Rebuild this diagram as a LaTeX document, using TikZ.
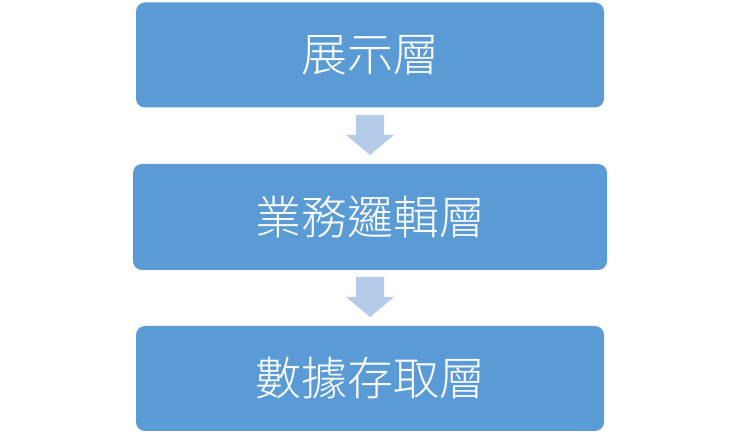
\documentclass[tikz,border=0pt]{standalone}
\usepackage{fontspec}
\newfontfamily\cjk{Noto Sans CJK TC}[UprightFont=* Light]
\definecolor{boxblue}{HTML}{5B9BD5}
\definecolor{arrowblue}{HTML}{B4CBE9}
\usetikzlibrary{shapes.arrows}
\begin{document}
\begin{tikzpicture}[x=1pt,y=1pt,
  layer/.style={fill=boxblue,draw=none,rounded corners=9pt,text=white,font=\cjk\fontsize{46}{50}\selectfont,inner sep=0pt},
  downarrow/.style={single arrow,shape border rotate=270,fill=arrowblue,draw=none,minimum width=48pt,single arrow head extend=0pt,minimum height=40pt,inner sep=0pt,single arrow tip angle=90}]
\useasboundingbox (0,0) rectangle (740,437);
\node[layer,minimum width=468pt,minimum height=105pt] (a) at (370,382) {展示層};
\node[layer,minimum width=474pt,minimum height=106pt] (b) at (370,220) {業務邏輯層};
\node[layer,minimum width=468pt,minimum height=105pt] (c) at (370,58.5) {數據存取層};
\fill[arrowblue] (356,322) -- (384,322) -- (384,302) -- (394,302) -- (370,282) -- (346,302) -- (356,302) -- cycle;
\coordinate (ar1) at (370,302);
\fill[arrowblue] (356,160) -- (384,160) -- (384,140) -- (394,140) -- (370,120) -- (346,140) -- (356,140) -- cycle;
\coordinate (ar2) at (370,140);
\end{tikzpicture}
\end{document}
